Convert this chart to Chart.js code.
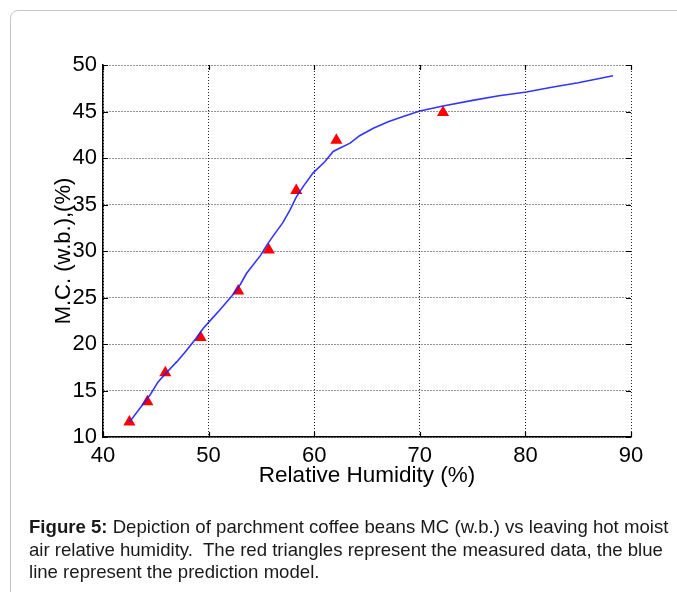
<!DOCTYPE html>
<html>
<head>
<meta charset="utf-8">
<script src="https://cdn.jsdelivr.net/npm/chart.js@4.4.1/dist/chart.umd.min.js"></script>
<style>
  html, body { margin: 0; padding: 0; background: #fff; overflow: hidden; }
  #page { position: relative; width: 677px; height: 592px; }
  #card {
    position: absolute; left: 10px; top: 10px; width: 720px; height: 640px;
    border: 1px solid #c4c4c4; border-radius: 8px;
  }
  #wrap { position: absolute; left: 0; top: 0; width: 677px; height: 592px; }
  #caption {
    position: absolute; left: 29px; top: 516px;
    font-family: "Liberation Sans", Arial, sans-serif; font-size: 18.6px;
    line-height: 22.5px; color: #1a1a1a; white-space: nowrap;
  }
</style>
</head>
<body>
<div id="page">
  <div id="card"></div>
  <div id="wrap"><canvas id="chart"></canvas></div>
  <div id="caption"><b>Figure 5:</b> Depiction of parchment coffee beans MC (w.b.) vs leaving hot moist<br>air relative humidity.&nbsp; The red triangles represent the measured data, the blue<br>line represent the prediction model.</div>
</div>
<script>
// measured data (red triangles)
const measuredRH = [42.5, 44.2, 45.9, 49.25, 52.8, 55.7, 58.3, 62.1, 72.2];
const measuredMC = [11.6, 13.8, 16.9, 20.7, 25.7, 30.1, 36.5, 41.9, 44.9];

// prediction model (blue line)
const modelRH = [42.5, 43.5, 44.5, 45.2, 46.0, 47.0, 47.9, 48.8, 49.5, 50.3, 51.1, 52.3, 53.0, 53.6,
  54.9, 55.5, 56.1, 57.0, 57.7, 58.3, 59.0, 59.9, 61.0, 61.8, 62.3, 63.4, 64.3, 65.6, 67.0, 68.5,
  70.0, 72.2, 75.0, 77.5, 80.1, 82.5, 85.0, 88.3];
const modelMC = [11.6, 13.1, 14.6, 15.9, 16.9, 18.1, 19.3, 20.6, 21.7, 22.7, 23.7, 25.3, 26.4, 27.6,
  29.5, 30.6, 31.6, 33.0, 34.4, 35.8, 37.0, 38.4, 39.6, 40.7, 41.0, 41.6, 42.4, 43.2, 43.9, 44.5,
  45.05, 45.6, 46.2, 46.7, 47.1, 47.6, 48.1, 48.85];

const xTicks = [40, 50, 60, 70, 80, 90];
const yTicks = [10, 15, 20, 25, 30, 35, 40, 45, 50];

const FONT = "'Liberation Sans', Arial, sans-serif";
const toPts = (xs, ys) => xs.map((x, i) => ({ x, y: ys[i] }));

// MATLAB style inner tick marks
const innerTicks = {
  id: "innerTicks",
  afterDatasetsDraw(chart) {
    const { ctx, chartArea: a, scales: { x, y } } = chart;
    ctx.save();
    ctx.strokeStyle = "#000";
    ctx.lineWidth = 1.2;
    ctx.beginPath();
    xTicks.forEach(v => {
      const px = Math.round(x.getPixelForValue(v)) + 0.5;
      ctx.moveTo(px, a.bottom); ctx.lineTo(px, a.bottom - 5);
      ctx.moveTo(px, a.top); ctx.lineTo(px, a.top + 5);
    });
    yTicks.forEach(v => {
      const py = Math.round(y.getPixelForValue(v)) + 0.5;
      ctx.moveTo(a.left, py); ctx.lineTo(a.left + 5, py);
      ctx.moveTo(a.right, py); ctx.lineTo(a.right - 5, py);
    });
    ctx.stroke();
    ctx.restore();
  }
};

new Chart(document.getElementById("chart"), {
  type: "scatter",
  data: {
    datasets: [
      {
        label: "Prediction model",
        data: toPts(modelRH, modelMC),
        showLine: true,
        borderColor: "rgba(30,30,255,0.9)",
        borderWidth: 1.6,
        pointRadius: 0,
        tension: 0
      },
      {
        label: "Measured",
        data: toPts(measuredRH, measuredMC),
        pointStyle: "triangle",
        pointRadius: 7,
        backgroundColor: "#ff0000",
        borderColor: "#ff0000",
        borderWidth: 0
      }
    ]
  },
  options: {
    responsive: true,
    maintainAspectRatio: false,
    animation: false,
    layout: { padding: { left: 0, top: 65, right: 46, bottom: 95 } },
    plugins: { legend: { display: false }, tooltip: { enabled: false } },
    scales: {
      x: {
        type: "linear", min: 40, max: 90,
        afterBuildTicks: s => { s.ticks = xTicks.map(v => ({ value: v })); },
        afterFit: s => { s.height = 60; },
        grid: { color: "rgba(0,0,0,0.85)", lineWidth: 1, drawTicks: false },
        border: { display: true, color: "#000", width: 1.5, dash: [1, 2] },
        ticks: { color: "#000", font: { family: FONT, size: 22 }, padding: 6, maxRotation: 0 },
        title: { display: true, text: "Relative Humidity (%)", color: "#000",
          font: { family: FONT, size: 22.5 }, padding: { top: 0, bottom: 8 } }
      },
      y: {
        type: "linear", min: 10, max: 50,
        afterBuildTicks: s => { s.ticks = yTicks.map(v => ({ value: v })); },
        afterFit: s => { s.width = 103; },
        grid: { color: "rgba(0,0,0,0.85)", lineWidth: 1, drawTicks: false },
        border: { display: true, color: "#000", width: 1.5, dash: [1, 2] },
        ticks: { color: "#000", font: { family: FONT, size: 22 }, padding: 6 },
        title: { display: true, text: "M.C. (w.b.),(%)", color: "#000",
          font: { family: FONT, size: 22 }, padding: { top: 51, bottom: 0 } }
      }
    }
  },
  plugins: [innerTicks]
});
</script>
</body>
</html>
